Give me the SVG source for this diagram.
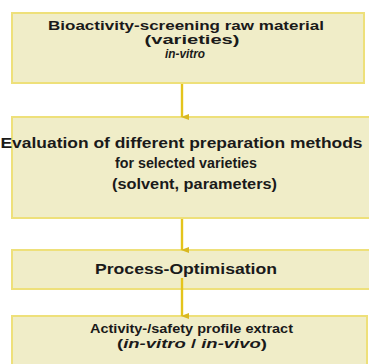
<svg xmlns="http://www.w3.org/2000/svg" width="369" height="364" viewBox="0 0 369 364">
<style>
.box{fill:#f0edc8;stroke:#eee07a;stroke-width:2}
.t{font-family:"Liberation Sans",Arial,sans-serif;font-weight:bold;fill:#1a1a1a;text-anchor:middle}
.i{font-style:italic}
.c{stroke:#e4c41c;stroke-width:2.4;fill:none}
</style>
<defs>
<marker id="ah" markerWidth="6" markerHeight="8" refX="3" refY="7" orient="auto" markerUnits="userSpaceOnUse" viewBox="0 0 6 8">
<path d="M0,0 L6,0 L3,8 Z" fill="#d9b820"/>
</marker>
</defs>
<rect width="369" height="364" fill="#ffffff"/>
<g id="n1">
<rect class="box" x="12" y="13" width="352" height="70"/>
<text class="t" x="186" y="30" font-size="12.5" textLength="276" lengthAdjust="spacingAndGlyphs">Bioactivity-screening raw material</text>
<text class="t" x="192" y="44" font-size="12.5" textLength="95" lengthAdjust="spacingAndGlyphs">(varieties)</text>
<text class="t i" x="185" y="58" font-size="12" textLength="40" lengthAdjust="spacingAndGlyphs">in-vitro</text>
</g>
<g id="n2">
<rect class="box" x="12" y="117" width="362" height="101"/>
<text class="t" x="181.5" y="148" font-size="15" textLength="362" lengthAdjust="spacingAndGlyphs">Evaluation of different preparation methods</text>
<text class="t" x="186" y="168" font-size="15" textLength="142" lengthAdjust="spacingAndGlyphs">for selected varieties</text>
<text class="t" x="194.5" y="189" font-size="15" textLength="165" lengthAdjust="spacingAndGlyphs">(solvent, parameters)</text>
</g>
<g id="n3">
<rect class="box" x="12" y="250" width="362" height="39"/>
<text class="t" x="186" y="274" font-size="14" textLength="182" lengthAdjust="spacingAndGlyphs">Process-Optimisation</text>
</g>
<g id="n4">
<rect class="box" x="12" y="316" width="355" height="52"/>
<text class="t" x="191.5" y="333" font-size="13.5" textLength="203" lengthAdjust="spacingAndGlyphs">Activity-/safety profile extract</text>
<text class="t" x="192" y="348" font-size="12.5" textLength="150" lengthAdjust="spacingAndGlyphs">(<tspan class="i">in-vitro</tspan> / <tspan class="i">in-vivo</tspan>)</text>
</g>
<g id="connectors">
<line class="c" x1="182" y1="84" x2="182" y2="117" marker-end="url(#ah)"/>
<line class="c" x1="182" y1="219" x2="182" y2="250" marker-end="url(#ah)"/>
<line class="c" x1="182" y1="278" x2="182" y2="316" marker-end="url(#ah)"/>
</g>
</svg>
